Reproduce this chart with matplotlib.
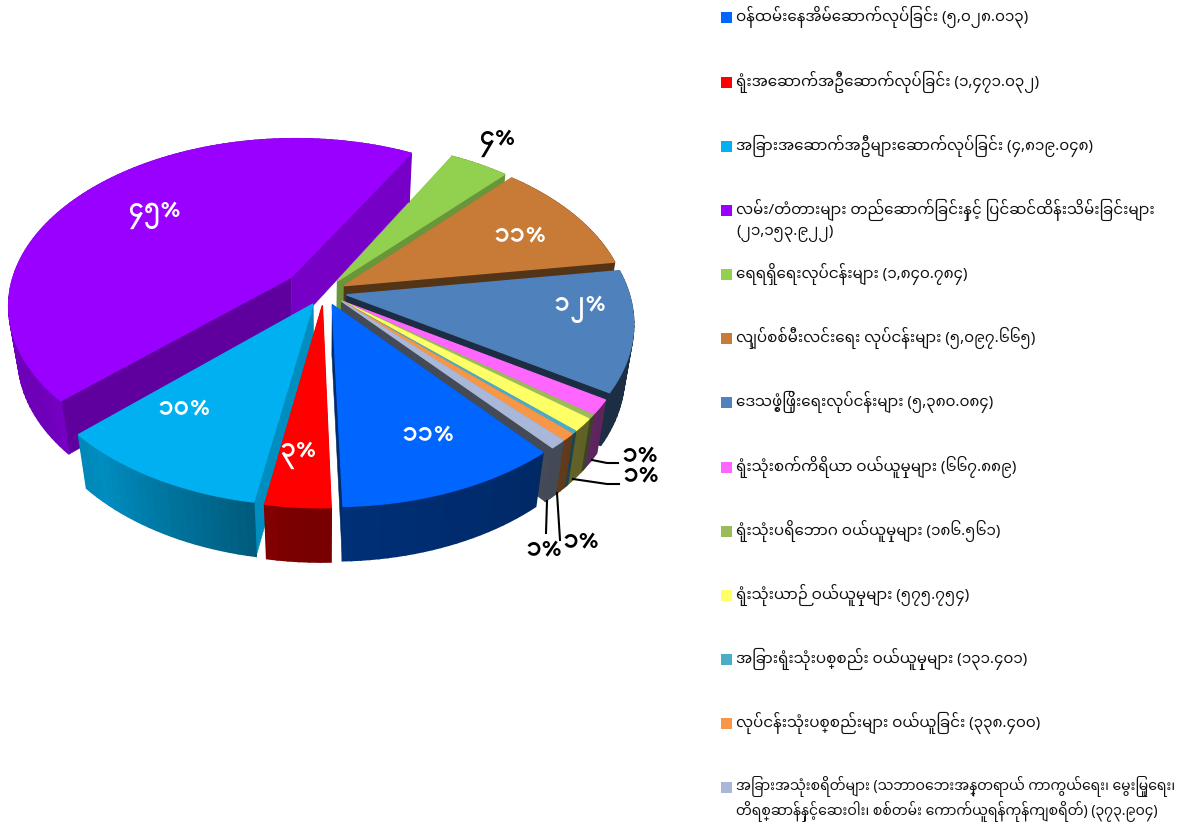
import numpy as np
import matplotlib
matplotlib.use("Agg")
import matplotlib.pyplot as plt
from matplotlib.patches import Polygon, Rectangle

names = [
    "ဝန်ထမ်းနေအိမ်ဆောက်လုပ်ခြင်း (၅,၀၂၈.၀၁၃)",
    "ရုံးအဆောက်အဦဆောက်လုပ်ခြင်း (၁,၄၇၁.၀၃၂)",
    "အခြားအဆောက်အဦများဆောက်လုပ်ခြင်း (၄,၈၁၉.၀၄၈)",
    "လမ်း/တံတားများ တည်ဆောက်ခြင်းနှင့် ပြင်ဆင်ထိန်းသိမ်းခြင်းများ\n(၂၁,၁၅၃.၉၂၂)",
    "ရေရရှိရေးလုပ်ငန်းများ (၁,၈၄၀.၇၈၄)",
    "လျှပ်စစ်မီးလင်းရေး လုပ်ငန်းများ (၅,၀၉၇.၆၆၅)",
    "ဒေသဖွံ့ဖြိုးရေးလုပ်ငန်းများ (၅,၃၈၀.၀၈၄)",
    "ရုံးသုံးစက်ကိရိယာ ဝယ်ယူမှုများ (၆၆၇.၈၈၉)",
    "ရုံးသုံးပရိဘောဂ ဝယ်ယူမှုများ (၁၈၆.၅၆၁)",
    "ရုံးသုံးယာဉ် ဝယ်ယူမှုများ (၅၇၅.၇၅၄)",
    "အခြားရုံးသုံးပစ္စည်း ဝယ်ယူမှုများ (၁၃၁.၄၀၁)",
    "လုပ်ငန်းသုံးပစ္စည်းများ ဝယ်ယူခြင်း (၃၃၈.၄၀၀)",
    "အခြားအသုံးစရိတ်များ (သဘာဝဘေးအန္တရာယ် ကာကွယ်ရေး၊ မွေးမြူရေး၊\nတိရစ္ဆာန်နှင့်ဆေးဝါး၊ စစ်တမ်း ကောက်ယူရန်ကုန်ကျစရိတ်) (၃၇၃.၉၀၄)",
]
values = [5028.013, 1471.032, 4819.048, 21153.922, 1840.784, 5097.665, 5380.084,
          667.889, 186.561, 575.754, 131.401, 338.400, 373.904]
pct_labels = ["၁၁%", "၃%", "၁၀%", "၄၅%", "၄%", "၁၁%", "၁၂%", "၁%", "၁%", "၁%", "၁%"]
colors = ["#0066ff", "#ff0000", "#00b0f0", "#9900ff", "#92d050", "#c87b37", "#4f81bd",
          "#ff66ff", "#9bbb59", "#ffff66", "#4bacc6", "#f79646", "#a9b8d8"]

FONT = "Noto Sans Myanmar"
CX, CY = 324, 292
R, RK = 282, 165      # radius and squashed radius in pixels
P, Q, D = 0.16, 0.03, 53   # perspective and extrusion


def project(u, v, z=0.0):
    s = 1 / (1 + P * v + Q * z)
    return CX + R * u * s, CY + (-RK * v + D * z) * s


def shade(color, f):
    return tuple(c * f for c in matplotlib.colors.to_rgb(color))


def display(text):
    # matplotlib does no shaping, so put the vowel and medial ra before their consonant
    out = []
    start = 0
    for ch in text:
        cp = ord(ch)
        if ch in "\u1031\u103c":
            out.insert(start, ch)
            if ch == "\u103c":
                start += 1
        else:
            if 0x1000 <= cp <= 0x1021 and not (out and out[-1] == "\u1039"):
                start = len(out)
            elif ch in " (\n/":
                start = len(out) + 1
            out.append(ch)
    return "".join(out)


fig = plt.figure(figsize=(12, 8.27), dpi=100)
ax = fig.add_axes([0, 0, 1, 1])
ax.set_xlim(0, 1200)
ax.set_ylim(827, 0)
ax.axis("off")

total = sum(values)
edges = -50 - np.cumsum([0] + values) * 360 / total
explode = [23 / R] * len(values)
explode[3] = 42 / R
small_mid = (edges[7] + edges[13]) / 2

# wall brightness against the angle round the pie
wall_angle = [-300, -220, -145, -130, -95, -60, -30, 5, 10, 47, 48, 60]
wall_level = [0.78, 0.75, 0.72, 0.80, 0.48, 0.42, 0.36, 0.36, 0.42, 0.42, 0.72, 0.72]
side_level = {0: (0.42, 0.42), 1: (0.45, 0.45), 2: (0.8, 0.8), 3: (0.62, 0.78), 4: (0.72, 0.72),
              5: (0.42, 0.42), 6: (0.35, 0.35)}

mids = (edges[:-1] + edges[1:]) / 2
order = sorted(range(len(values)), key=lambda i: (-np.sin(np.radians(mids[i])), i))
for i in order:
    mid = small_mid if i >= 7 else mids[i]
    ox = explode[i] * np.cos(np.radians(mid))
    oy = explode[i] * np.sin(np.radians(mid))
    arc = np.radians(np.linspace(edges[i], edges[i + 1], max(3, int((edges[i] - edges[i + 1]) / 1.5))))
    us = ox + np.cos(arc)
    vs = oy + np.sin(arc)
    lev = side_level.get(i, (0.4, 0.4))
    # the two radial faces
    for k, (u, v) in enumerate([(us[0], vs[0]), (us[-1], vs[-1])]):
        pts = [project(ox, oy), project(u, v), project(u, v, 1), project(ox, oy, 1)]
        c = shade(colors[i], lev[k])
        ax.add_patch(Polygon(pts, closed=True, fc=c, ec=c, lw=0.4))
    # outer wall, in thin strips so the shade can change
    for j in range(len(arc) - 1):
        pts = [project(us[j], vs[j]), project(us[j + 1], vs[j + 1]),
               project(us[j + 1], vs[j + 1], 1), project(us[j], vs[j], 1)]
        deg = np.degrees(arc[j])
        if deg < -300:
            deg += 360
        c = shade(colors[i], np.interp(deg, wall_angle, wall_level))
        ax.add_patch(Polygon(pts, closed=True, fc=c, ec=c, lw=1.2))
    top = [project(ox, oy)] + [project(u, v) for u, v in zip(us, vs)]
    ax.add_patch(Polygon(top, closed=True, fc=colors[i], ec=colors[i], lw=1.0))

# percent labels
label_xy = [(428, 434), (298, 455), (184, 408), (154, 215), (497, 143), (520, 235), (580, 309),
            (640, 455), (641, 475), (581, 541), (544, 549)]
label_col = ["white", "white", "white", "white", "black", "white", "white",
             "black", "black", "black", "black"]
for txt, (x, y), c in zip(pct_labels, label_xy, label_col):
    ax.text(x, y, txt, family="Padauk", weight="bold", fontsize=20.5, color=c, ha="center", va="center")

# leader lines of the small slices
ax.plot([592, 607, 618], [460, 463, 463], color="black", lw=1.5)
ax.plot([573, 607, 619], [479, 484, 484], color="black", lw=1.5)
ax.plot([557, 560], [493, 540], color="black", lw=1.5)
ax.plot([547, 546], [501, 533], color="black", lw=1.5)

# legend, the last entry is long without stacked letters so it gets a smaller size
legend_y = [17, 82, 146, 210, 274, 338, 402, 467, 531, 595, 659, 723, 787]
for k, (name, c, y) in enumerate(zip(names, colors, legend_y)):
    ax.add_patch(Rectangle((721, y - 5.5), 11, 11, fc=c, ec="none"))
    size = 10.1 if k == 12 else 10.9
    ax.text(736, y - 11, display(name), family=FONT, fontsize=size, color="#111111",
            ha="left", va="top", linespacing=1.25)

fig.savefig("out.png", dpi=100)
